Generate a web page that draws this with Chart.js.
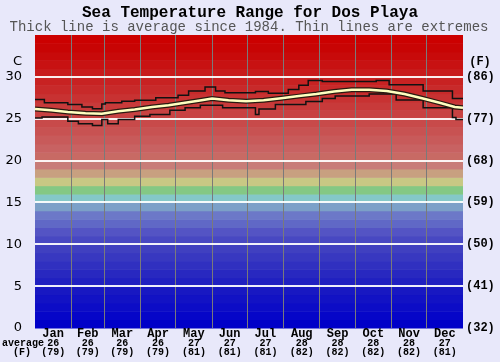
<!DOCTYPE html>
<html>
<head>
<meta charset="utf-8">
<script src="https://cdn.jsdelivr.net/npm/chart.js@4"></script>
<style>
  html, body { margin: 0; padding: 0; background: #e8e8fa; }
</style>
</head>
<body>
<canvas id="seaChart" width="500" height="362"></canvas>
<script>
const months = ['Jan', 'Feb', 'Mar', 'Apr', 'May', 'Jun', 'Jul', 'Aug', 'Sep', 'Oct', 'Nov', 'Dec'];
const monthStart = [0, 31, 59, 90, 120, 151, 181, 212, 243, 273, 304, 334, 365];
const monthAvgC = [26, 26, 26, 26, 27, 27, 27, 28, 28, 28, 28, 27];
const monthAvgF = [79, 79, 79, 79, 81, 81, 81, 82, 82, 82, 82, 81];

// average line (day of year, degrees C)
const avgDays = [0, 14, 28, 43, 57, 71, 85, 100, 114, 128, 142, 151, 165, 180, 195, 210, 225, 240, 255, 270, 285, 300, 315, 330, 345, 358, 365];
const avgC = [26.15, 26.0, 25.8, 25.65, 25.6, 25.9, 26.1, 26.4, 26.6, 26.9, 27.2, 27.4, 27.2, 27.1, 27.2, 27.45, 27.7, 27.95, 28.25, 28.45, 28.45, 28.3, 27.95, 27.45, 26.9, 26.4, 26.3];

// extremes, stepped (value holds from that day on)
const maxDays = [0, 8, 28, 40, 49, 57, 60, 74, 85, 103, 122, 131, 145, 154, 162, 188, 199, 216, 225, 233, 245, 291, 302, 331, 356, 365];
const maxC = [27.3, 26.9, 26.7, 26.4, 26.2, 26.75, 26.9, 27.1, 27.2, 27.5, 27.8, 28.3, 28.8, 28.3, 28.1, 28.25, 28.05, 28.5, 29.0, 29.55, 29.45, 29.55, 29.05, 28.3, 27.4, 27.4];
const minDays = [0, 6, 28, 37, 49, 57, 62, 71, 85, 98, 115, 128, 141, 160, 188, 191, 205, 231, 245, 256, 285, 308, 331, 356, 359, 365];
const minC = [25.1, 25.2, 24.7, 24.4, 24.2, 24.9, 24.4, 24.9, 25.3, 25.5, 26.0, 26.3, 26.6, 26.3, 25.5, 26.15, 26.7, 27.05, 27.4, 27.7, 27.95, 27.25, 26.3, 25.15, 24.9, 24.9];

// one colour per degree band, 0..35
const bandColors = [
  '#0000c8', '#0606c8', '#0c0cc6', '#1212c4', '#1818c2', '#2020c0', '#2828c0', '#3030c0',
  '#3838c0', '#4040c0', '#4848c2', '#5454c4', '#6068c6', '#6c78c8', '#7ca0c8', '#84c8c8',
  '#84c884', '#c8c884', '#c8a080', '#c87c78', '#c86a64', '#c86262', '#c85a5a', '#c85252',
  '#c84a4a', '#c84242', '#c83a3a', '#c83232', '#c82a2a', '#c82222', '#c81a1a', '#c81212',
  '#c80a0a', '#c80404', '#cc0000'
];

const toPoints = (xs, ys) => xs.map((d, i) => ({ x: d, y: ys[i] }));
const mono = "'Liberation Mono', 'DejaVu Sans Mono', monospace";

const bandsPlugin = {
  id: 'bands',
  beforeDraw(chart) {
    const { ctx, chartArea: a, scales: { y } } = chart;
    ctx.save();
    bandColors.forEach((c, t) => {
      const top = y.getPixelForValue(t + 1);
      const bot = y.getPixelForValue(t);
      ctx.fillStyle = c;
      ctx.fillRect(a.left, top, a.right - a.left, bot - top + 0.5);
    });
    ctx.restore();
  }
};

const textPlugin = {
  id: 'texts',
  afterDraw(chart) {
    const { ctx, scales: { x } } = chart;
    ctx.save();
    ctx.fillStyle = '#000';
    ctx.textBaseline = 'middle';
    ctx.textAlign = 'center';
    ctx.font = 'bold 16px ' + mono;
    ctx.fillText('Sea Temperature Range for Dos Playa', 250, 13);
    ctx.fillStyle = '#555';
    ctx.font = '14px ' + mono;
    ctx.fillText('Thick line is average since 1984. Thin lines are extremes', 249, 27);

    ctx.fillStyle = '#000';
    ctx.font = "13px 'DejaVu Sans', sans-serif";
    ctx.textAlign = 'right';
    ctx.fillText('C', 22, 62);
    ctx.textAlign = 'center';
    ctx.font = 'bold 12px ' + mono;
    ctx.fillText('(F)', 480, 62);

    months.forEach((m, i) => {
      const cx = x.getPixelForValue((monthStart[i] + monthStart[i + 1]) / 2);
      ctx.font = 'bold 12px ' + mono;
      ctx.fillText(m, cx, 334);
      ctx.font = 'bold 10px ' + mono;
      ctx.fillText(String(monthAvgC[i]), cx, 343);
      ctx.fillText('(' + monthAvgF[i] + ')', cx, 352);
    });
    ctx.font = 'bold 10px ' + mono;
    ctx.textAlign = 'left';
    ctx.fillText('average', 2, 343);
    ctx.textAlign = 'center';
    ctx.fillText('(F)', 22, 352);
    ctx.restore();
  }
};

new Chart(document.getElementById('seaChart'), {
  type: 'line',
  data: {
    datasets: [
      {
        label: 'Average',
        data: toPoints(avgDays, avgC),
        borderColor: '#ffffc0',
        borderWidth: 2.5,
        pointRadius: 0
      },
      {
        label: 'Average outline',
        data: toPoints(avgDays, avgC),
        borderColor: '#2a1a10',
        borderWidth: 5,
        pointRadius: 0
      },
      {
        label: 'Maximum',
        data: toPoints(maxDays, maxC),
        borderColor: '#111',
        borderWidth: 1.5,
        stepped: true,
        pointRadius: 0
      },
      {
        label: 'Minimum',
        data: toPoints(minDays, minC),
        borderColor: '#111',
        borderWidth: 1.5,
        stepped: true,
        pointRadius: 0
      }
    ]
  },
  options: {
    responsive: false,
    animation: false,
    layout: { padding: { top: 35 } },
    plugins: { legend: { display: false }, tooltip: { enabled: false } },
    scales: {
      x: {
        type: 'linear',
        min: 0,
        max: 365,
        afterBuildTicks: s => { s.ticks = monthStart.slice(1, 12).map(v => ({ value: v })); },
        afterFit: s => { s.height = 34; },
        ticks: { display: false },
        grid: { color: '#7a7a7a', lineWidth: 1, drawTicks: false },
        border: { display: false }
      },
      y: {
        position: 'left',
        min: 0,
        max: 35,
        afterFit: s => { s.width = 35; },
        ticks: {
          stepSize: 5,
          padding: 13,
          color: '#000',
          font: { family: "'DejaVu Sans', sans-serif", size: 13 },
          callback: v => (v === 35 ? '' : v)
        },
        grid: {
          drawTicks: false,
          lineWidth: 2,
          color: c => (c.tick.value === 0 || c.tick.value === 35 ? 'rgba(0,0,0,0)' : 'rgba(255,255,255,0.92)')
        },
        border: { display: false }
      },
      yF: {
        position: 'right',
        min: 0,
        max: 35,
        afterFit: s => { s.width = 37; },
        ticks: {
          stepSize: 5,
          padding: 3,
          color: '#000',
          font: { family: mono, size: 12, weight: 'bold' },
          callback: v => (v === 35 ? '' : '(' + Math.round(v * 9 / 5 + 32) + ')')
        },
        grid: { display: false, drawTicks: false },
        border: { display: false }
      }
    }
  },
  plugins: [bandsPlugin, textPlugin]
});
</script>
</body>
</html>
